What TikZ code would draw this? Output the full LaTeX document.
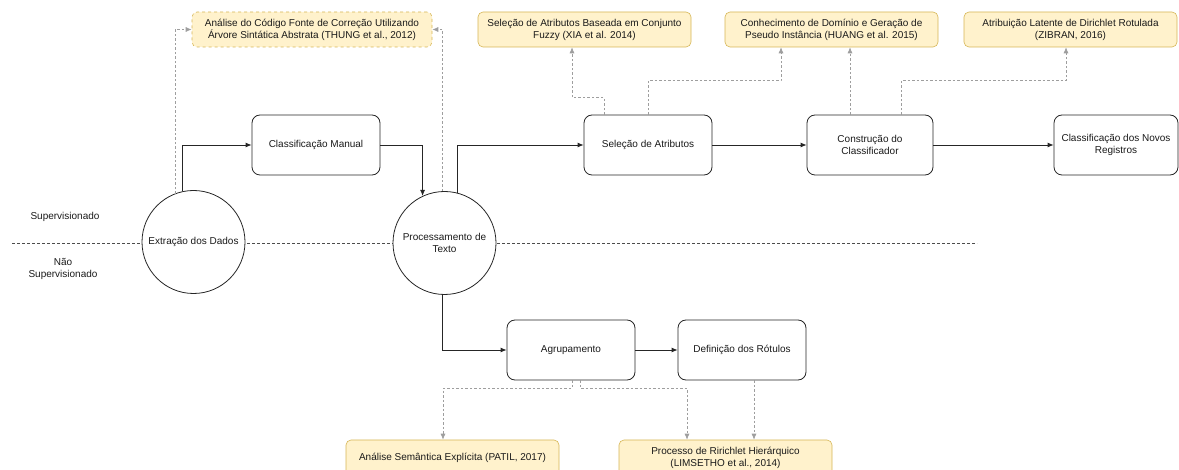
\documentclass[tikz,border=0pt]{standalone}
\usepackage{fontspec}
\setmainfont{Liberation Sans}
\usetikzlibrary{arrows.meta,calc}
\definecolor{noteFill}{HTML}{FFF2CC}
\definecolor{noteLine}{HTML}{D6B656}
\definecolor{linkGray}{HTML}{9E9E9E}
\definecolor{txt}{HTML}{1A1A1A}
\tikzset{
  procbox/.style={draw=black!85, fill=white, rounded corners=8pt, line width=0.8pt,
    minimum width=128pt, minimum height=60pt, inner sep=0pt, align=center,
    font=\fontsize{10}{12}\selectfont, text=txt},
  stepcircle/.style={draw=black!85, fill=white, circle, line width=0.8pt,
    minimum size=103pt, inner sep=0pt, align=center,
    font=\fontsize{10}{12}\selectfont, text=txt},
  notebox/.style={draw=noteLine, fill=noteFill, rounded corners=5pt, line width=0.6pt,
    minimum width=213pt, minimum height=35pt, inner sep=0pt, align=center,
    font=\fontsize{10}{12}\selectfont, text=txt},
  flow/.style={draw=black!85, line width=0.8pt, -{Latex[length=6pt,width=5pt]}},
  reflink/.style={draw=linkGray, line width=0.7pt, dash pattern=on 2.5pt off 2pt,
    -{Latex[length=6pt,width=5pt]}},
  lanelabel/.style={font=\fontsize{10}{12}\selectfont, text=txt, align=center}
}
\begin{document}
\begin{tikzpicture}[x=1pt,y=-1pt]
\useasboundingbox (0,0) rectangle (1179,470);
% separator
\coordinate (sepL) at (12,243);
\coordinate (sepR) at (977,243);
\draw[black!70, line width=0.7pt, dash pattern=on 3pt off 2pt] (sepL) -- (sepR);
\node[lanelabel] (sup) at (65,217) {Supervisionado};
\node[lanelabel] (nsup) at (63,269) {Não\\Supervisionado};
% reference notes
\node[notebox, minimum width=240pt, dashed] (thung) at (312,29.5) {Análise do Código Fonte de Correção Utilizando\\Árvore Sintática Abstrata (THUNG et al., 2012)};
\node[notebox] (xia) at (584.5,29.5) {Seleção de Atributos Baseada em Conjunto\\Fuzzy (XIA et al. 2014)};
\node[notebox] (huang) at (831.5,29.5) {Conhecimento de Domínio e Geração de\\Pseudo Instância (HUANG et al. 2015)};
\node[notebox] (zibran) at (1070.5,29.5) {Atribuição Latente de Dirichlet Rotulada\\(ZIBRAN, 2016)};
\node[notebox] (patil) at (452.5,457.5) {Análise Semântica Explícita (PATIL, 2017)};
\node[notebox] (limsetho) at (725.5,457.5) {Processo de Ririchlet Hierárquico\\(LIMSETHO et al., 2014)};
% process steps
\node[stepcircle] (ext) at (193.5,242) {Extração dos Dados};
\node[stepcircle] (proc) at (444.5,243) {Processamento de\\Texto};
\node[procbox] (man) at (316,145) {Classificação Manual};
\node[procbox] (sel) at (648,145) {Seleção de Atributos};
\node[procbox, minimum width=126pt] (con) at (870,145) {Construção do\\Classificador};
\node[procbox, minimum width=124pt] (nov) at (1116,145) {Classificação dos Novos\\Registros};
\node[procbox] (agr) at (571,350) {Agrupamento};
\node[procbox] (def) at (742,350) {Definição dos Rótulos};
% flows
\draw[flow] (ext.102) |- (man.west);
\draw[flow] (man.east) -| (proc.115);
\draw[flow] (proc.76) |- (sel.west);
\draw[flow] (sel.east) -- (con.west);
\draw[flow] (con.east) -- (nov.west);
\draw[flow] (proc.268) |- (agr.west);
\draw[flow] (agr.east) -- (def.west);
% reference links
\draw[reflink] (ext.111) |- (thung.west);
\draw[reflink] (proc.92) |- (thung.east);
\draw[reflink] ([xshift=-44pt]sel.north) -- ++(0,-17) -| ([xshift=-12.5pt]xia.south);
\draw[reflink] (sel.north) -- ++(0,-34) -| ([xshift=-50.5pt]huang.south);
\draw[reflink] ([xshift=-20pt]con.north) -- ([xshift=-20pt]con.north |- huang.south);
\draw[reflink] ([xshift=31pt]con.north) -- ++(0,-34) -| ([xshift=-4.5pt]zibran.south);
\draw[reflink] ([xshift=1pt]agr.south) -- ++(0,8) -| ([xshift=-9.5pt]patil.north);
\draw[reflink] ([xshift=9pt]agr.south) -- ++(0,8) -| ([xshift=-38.5pt]limsetho.north);
\draw[reflink] ([xshift=12pt]def.south) -- ([xshift=12pt]def.south |- limsetho.north);
\end{tikzpicture}
\end{document}
